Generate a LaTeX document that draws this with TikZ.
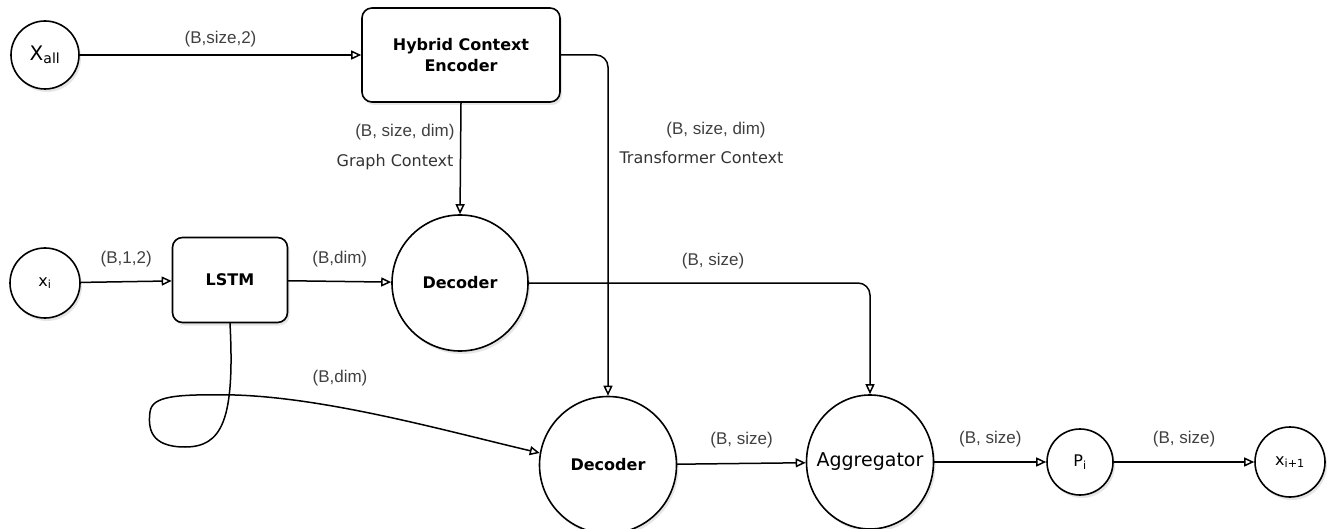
\documentclass[tikz,border=0pt]{standalone}
\usepackage{fontspec}
\setmainfont{Liberation Sans}
\newfontfamily\sketchfont{DejaVu Sans}
\usetikzlibrary{positioning,arrows.meta,shapes.geometric,shadows}

\tikzset{
  box/.style={draw, line width=1.6pt, rounded corners=10pt, fill=white, align=center,
    font=\sketchfont\fontsize{16}{21}\selectfont\bfseries,
    drop shadow={opacity=0.2, shadow xshift=2pt, shadow yshift=-3pt}},
  blob/.style={draw, line width=1.6pt, circle, fill=white, inner sep=0pt,
    font=\sketchfont\fontsize{16}{20}\selectfont\bfseries,
    drop shadow={opacity=0.2, shadow xshift=2pt, shadow yshift=-3pt}},
  flow/.style={draw, line width=1.5pt, -{Triangle[open,length=10pt,width=9pt,line width=1.5pt]}},
  tag/.style={font=\fontsize{17}{20}\selectfont, text=black!75},
  note/.style={font=\sketchfont\fontsize{16}{22}\selectfont, text=black!80},
}

\begin{document}
\begin{tikzpicture}[x=1pt, y=-1pt, line cap=round, line join=round]
\useasboundingbox (0,0) rectangle (1335,529);

% inputs and encoder
\node[blob, minimum size=68pt] (xall) at (45,55) {\mdseries\fontsize{20}{22}\selectfont X\textsubscript{all}};
\node[box, minimum width=198pt, minimum height=94pt] (hce) at (461,55) {Hybrid Context\\Encoder};
\node[blob, minimum size=70pt] (xi) at (45,283) {\mdseries x\textsubscript{i}};
\node[box, minimum width=115pt, minimum height=85pt] (lstm) at (230,280) {LSTM};

% decoders
\node[blob, minimum size=136pt] (decone) at (460,283) {Decoder};
\node[blob, minimum size=137pt] (dectwo) at (608,465) {Decoder};

% aggregation and output
\node[blob, ellipse, minimum width=127pt, minimum height=134pt] (agg) at (870,462)
  {\makebox[0pt]{\mdseries\fontsize{19}{20}\selectfont Aggregator}};
\node[blob, minimum size=66pt] (pi) at (1080,462) {\mdseries P\textsubscript{i}};
\node[blob, minimum size=70pt] (xnext) at (1290,462) {\mdseries x\textsubscript{i+1}};

% connectors
\draw[flow] (xall) -- node[tag, above=4pt] {(B,size,2)} (hce);
\draw[flow] (hce.south) -- (decone.north);
\draw[flow, rounded corners=12pt] (hce.east) -| (dectwo.north);
\draw[flow] (xi) -- node[tag, above=11pt] {(B,1,2)} (lstm);
\draw[flow] (lstm) -- node[tag, above=10pt] {(B,dim)} (decone);
\draw[flow, rounded corners=12pt] (decone.east) -| node[tag, pos=0.27, above=10pt] {(B, size)} (agg.north);
\draw[flow] (lstm.south) .. controls (235,420) and (222,447) .. (185,447)
  .. controls (150,447) and (148,428) .. (150,412)
  .. controls (152,396) and (175,394) .. (235,395)
  .. controls (330,398) and (450,432) .. (dectwo.170);
\draw[flow] (dectwo) -- node[tag, above=11pt] {(B, size)} (agg);
\draw[flow] (agg) -- node[tag, above=11pt] {(B, size)} (pi);
\draw[flow] (pi) -- node[tag, above=11pt] {(B, size)} (xnext);

% free labels
\node[tag] (lblloop) at (340,378) {(B,dim)};
\node[tag, anchor=east] (lblsizeg) at (458,132) {(B, size, dim)};
\node[note, anchor=east] (lblgraph) at (457,162) {Graph Context};
\node[tag] (lblsizet) at (716,130) {(B, size, dim)};
\node[note, anchor=west] (lbltrans) at (616,158) {Transformer Context};
\end{tikzpicture}
\end{document}
